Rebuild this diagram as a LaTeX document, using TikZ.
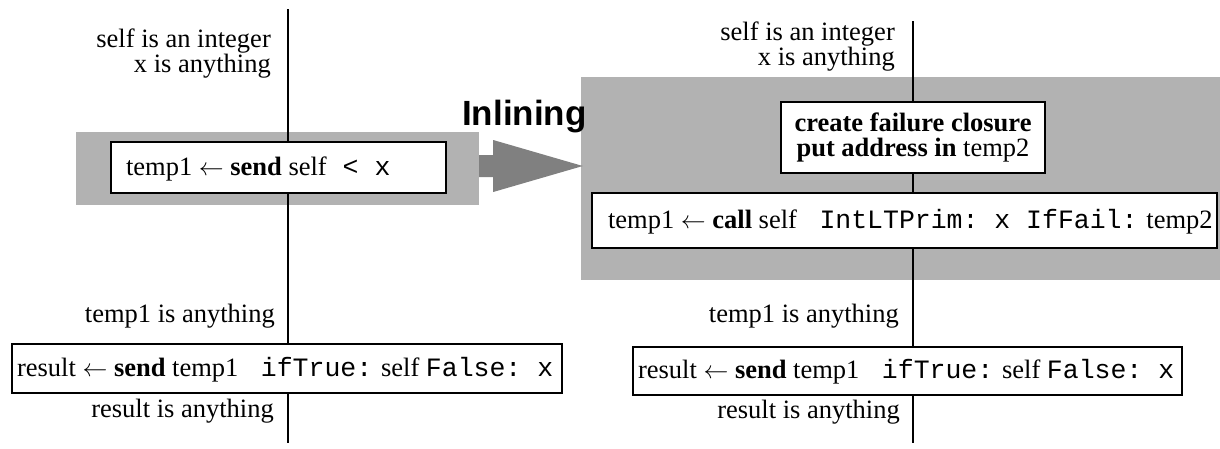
\documentclass[tikz,border=0pt]{standalone}
\usepackage{fontspec}
\setmainfont{Liberation Serif}
\setmonofont{Liberation Mono}
\newfontfamily\inlfont{Liberation Sans}
\usetikzlibrary{calc}
\definecolor{shadegray}{HTML}{B2B2B2}
\definecolor{arrowgray}{HTML}{808080}
\newcommand{\lar}{$\leftarrow$}
\begin{document}
\begin{tikzpicture}[x=1pt,y=-1pt,
  every node/.style={font=\fontsize{26.5}{25}\selectfont},
  bgshade/.style={fill=shadegray, draw=none, inner sep=0pt},
  stmtbox/.style={draw=black, fill=white, line width=1.6pt, inner ysep=0pt},
  oneline/.style={stmtbox, text height=19pt, text depth=4pt},
  lbl/.style={anchor=base east, inner sep=0pt},
  flow/.style={line width=2pt}]
\useasboundingbox (0,0) rectangle (1220,448);

% shaded regions
\node[bgshade, minimum width=403pt, minimum height=73pt] (lgray) at (277.5,168.5) {};
\node[bgshade, minimum width=639pt, minimum height=203pt] (rgray) at (900.5,178.5) {};

% inlining arrow
\coordinate (arrS) at ($(lgray.east)+(0,-2.5)$);
\coordinate (arrT) at ($(rgray.west |- arrS)+(2,0)$);
\fill[arrowgray] ($(arrS)+(0,-11)$) -- ++(14,0) -- ++(0,-15) -- (arrT)
  -- ($(arrS)+(14,26)$) -- ++(0,-15) -- ($(arrS)+(0,11)$) -- cycle;
\node[anchor=base west, inner sep=0pt, font=\inlfont\bfseries\fontsize{35}{35}\selectfont] (inl) at (462,125) {Inlining};

% flow endpoints
\coordinate (ltop) at (288,9);
\coordinate (lbot) at (288,443);
\coordinate (rtop) at (913,21);
\coordinate (rbot) at (913,443);

% left statements
\node[oneline, minimum width=335pt, minimum height=51pt, inner xsep=15pt] (lbox) at (278.5,167.5)
  {\makebox[305pt][l]{temp1 \lar{} \textbf{send} self\texttt{~<~x}}};
\node[oneline, minimum width=550pt, minimum height=49pt, inner xsep=5pt] (lres) at (287,368.5)
  {\makebox[540pt][l]{result \lar{} \textbf{send} temp1 \texttt{~ifTrue:} self \texttt{False:~x}}};

% right statements
\node[stmtbox, minimum width=264pt, minimum height=71pt, align=center, inner xsep=0pt] (rcl) at (913,137.5)
  {\textbf{create failure closure}\\\textbf{put address in} temp2};
\node[oneline, minimum width=625pt, minimum height=55pt, inner xsep=16pt] (rcall) at (904.5,220.5)
  {\makebox[593pt][l]{temp1 \lar{} \textbf{call} self \texttt{~IntLTPrim:~x~IfFail:} temp2}};
\node[oneline, minimum width=549pt, minimum height=48pt, inner xsep=5pt] (rres) at (907.5,371)
  {\makebox[539pt][l]{result \lar{} \textbf{send} temp1 \texttt{~ifTrue:} self \texttt{False:~x}}};

% flow lines
\draw[flow] (ltop) -- (ltop |- lbox.north);
\draw[flow] (ltop |- lbox.south) -- (ltop |- lres.north);
\draw[flow] (ltop |- lres.south) -- (lbot);
\draw[flow] (rtop) -- (rtop |- rcl.north);
\draw[flow] (rtop |- rcl.south) -- (rtop |- rcall.north);
\draw[flow] (rtop |- rcall.south) -- (rtop |- rres.north);
\draw[flow] (rtop |- rres.south) -- (rbot);

% type labels
\node[lbl] (l1) at (271,47) {self is an integer};
\node[lbl] (l2) at (271,72) {x is anything};
\node[lbl] (l3) at (275,322) {temp1 is anything};
\node[lbl] (l4) at (274,417) {result is anything};
\node[lbl] (r1) at (895,40) {self is an integer};
\node[lbl] (r2) at (895,65) {x is anything};
\node[lbl] (r3) at (899,322) {temp1 is anything};
\node[lbl] (r4) at (900,418) {result is anything};
\end{tikzpicture}
\end{document}
